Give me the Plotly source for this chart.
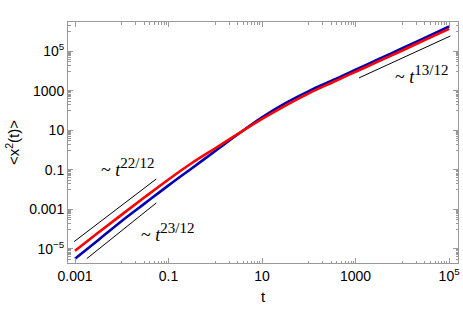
import plotly.graph_objects as go

# ---- data (log10 values) ----
log_t = [-3, -2.5, -2, -1.5, -1, -0.5, 0, 0.5, 1, 1.5, 2, 2.5, 3, 3.5, 4, 4.5, 5]
red_log_x2 = [-5.09, -4.17, -3.26, -2.36, -1.48, -0.65, 0.10, 0.85, 1.58, 2.26, 2.88, 3.43, 3.97, 4.51, 5.05, 5.60, 6.14]
blue_log_x2 = [-5.50, -4.54, -3.58, -2.68, -1.78, -0.91, -0.04, 0.83, 1.66, 2.38, 2.99, 3.53, 4.07, 4.62, 5.16, 5.71, 6.26]

# guide lines (endpoints, log10)
guide_a_t = [-3.02, -1.262]
guide_a_y = [-4.63, -1.456]
guide_b_t = [-2.749, -1.262]
guide_b_y = [-5.49, -2.67]
guide_c_t = [3.073, 5.026]
guide_c_y = [3.66, 5.78]

x_tickvals = [1e-3, 1e-1, 1e1, 1e3, 1e5]
x_ticktext = ["0.001", "0.1", "10", "1000", "10<sup>5</sup>"]
y_tickvals = [1e-5, 1e-3, 1e-1, 1e1, 1e3, 1e5]
y_ticktext = ["10<sup>\u22125</sup>", "0.001", "0.1", "10", "1000", "10<sup>5</sup>"]

t = [10 ** v for v in log_t]
red = [10 ** v for v in red_log_x2]
blue = [10 ** v for v in blue_log_x2]

def pw(a):
    return [10 ** v for v in a]

minor_x = [k * 10.0 ** e for e in (-2, 0, 2, 4) for k in range(1, 10)]
minor_y = [k * 10.0 ** e for e in (-6, -4, -2, 0, 2, 4, 6) for k in range(1, 10)]

fig = go.Figure()
for gt, gy in ((guide_a_t, guide_a_y), (guide_b_t, guide_b_y), (guide_c_t, guide_c_y)):
    fig.add_trace(go.Scatter(x=pw(gt), y=pw(gy), mode="lines",
                             line=dict(color="black", width=1), showlegend=False))
fig.add_trace(go.Scatter(x=t, y=blue, mode="lines", line=dict(color="#0000b0", width=2.6, shape="spline"),
                         showlegend=False))
fig.add_trace(go.Scatter(x=t, y=red, mode="lines", line=dict(color="#ff0000", width=2.6, shape="spline"),
                         showlegend=False))

frame = "#999999"
sans = "Liberation Sans, Arial"
common = dict(showgrid=False, zeroline=False, showline=True, linecolor=frame, linewidth=1,
              mirror="allticks", ticks="inside", ticklen=5, tickcolor=frame, tickwidth=1,
              automargin=False, tickfont=dict(family=sans, size=14, color="black"))

fig.update_xaxes(type="log", range=[-3.15, 5.19], tickmode="array", tickvals=x_tickvals, ticktext=x_ticktext,
                 minor=dict(tickmode="array", tickvals=minor_x, ticks="inside", ticklen=2.5, tickcolor=frame),
                 **common)
fig.update_yaxes(type="log", range=[-5.71, 6.49], tickmode="array", tickvals=y_tickvals, ticktext=y_ticktext,
                 minor=dict(tickmode="array", tickvals=minor_y, ticks="inside", ticklen=2.5, tickcolor=frame),
                 **common)

title_font = dict(family=sans, size=15, color="black")
fig.add_annotation(x=0.5, y=-0.141, xref="paper", yref="paper", text="t", showarrow=False,
                   font=title_font, xanchor="center", yanchor="middle")
fig.add_annotation(x=-0.141, y=0.498, xref="paper", yref="paper", text="&lt;x<sup>2</sup>(t)&gt;",
                   showarrow=False, font=title_font, textangle=-90, xanchor="center", yanchor="middle")

ann_font = dict(family="Liberation Serif, Times New Roman", size=18, color="black")
labels = [(-1.884, -0.85, "22/12"),
          (-1.026, -4.19, "23/12"),
          (4.40, 3.81, "13/12")]
for lx, ly, expo in labels:
    txt = "~ <i>t</i><sup><span style=\"font-size:15px\">" + expo + "</span></sup>"
    fig.add_annotation(x=lx, y=ly, xref="x", yref="y", text=txt, showarrow=False, font=ann_font)

fig.update_layout(width=463, height=311, margin=dict(l=68, r=5, t=22, b=48),
                  plot_bgcolor="white", paper_bgcolor="white")
# remove the default 8px page margin so the figure fills the 463x311 window exactly
fig.write_html("out.html", config={"displayModeBar": False},
               post_script="document.body.style.margin='0';")
